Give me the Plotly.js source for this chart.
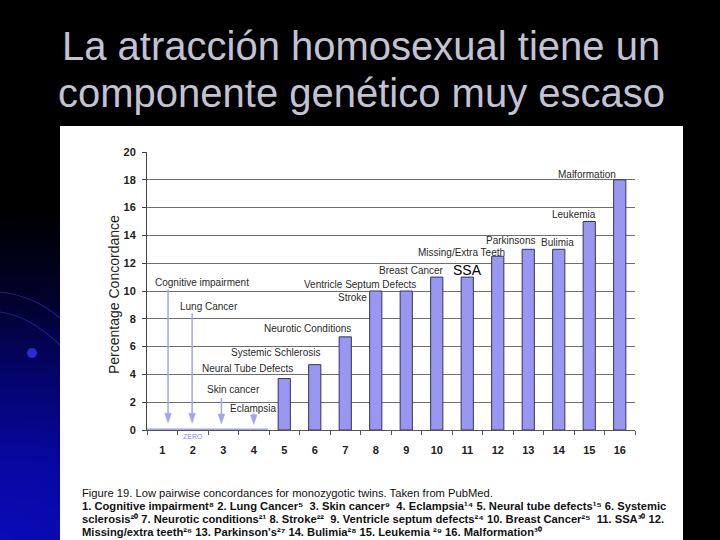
<!DOCTYPE html>
<html>
<head>
<meta charset="utf-8">
<script src="https://cdn.plot.ly/plotly-3.0.1.min.js"></script>
<style>
  html, body { margin: 0; padding: 0; background: #000; }
  #chart {
    width: 720px; height: 540px;
    background:
      radial-gradient(ellipse 620px 330px at 0% 100%, #0b0bb8 0%, #0707a0 25%, #04046a 50%, #010128 75%, #000 100%),
      #000;
  }
</style>
</head>
<body>
<div id="chart"></div>
<script>
// ---------------- data ----------------
const categories = ['1','2','3','4','5','6','7','8','9','10','11','12','13','14','15','16'];
const concordance = [0, 0, 0, 0, 3.7, 4.7, 6.7, 10, 10, 11, 11, 12.5, 13, 13, 15, 18];
const yTickValues = [0, 2, 4, 6, 8, 10, 12, 14, 16, 18, 20];
const conditionNames = [
  'Cognitive impairment', 'Lung Cancer', 'Skin cancer', 'Eclampsia',
  'Neural Tube Defects', 'Systemic Schlerosis', 'Neurotic Conditions',
  'Stroke', 'Ventricle Septum Defects', 'Breast Cancer', 'SSA',
  'Missing/Extra Teeth', 'Parkinsons', 'Bulimia', 'Leukemia', 'Malformation'
];
const titleLines = ['La atracción homosexual tiene un', 'componente genético muy escaso'];
const yAxisTitle = 'Percentage Concordance';
const zeroText = 'ZERO';
const captionLines = [
  'Figure 19. Low pairwise concordances for monozygotic twins. Taken from PubMed.',
  '1. Cognitive impairment⁸ 2. Lung Cancer⁵  3. Skin cancer⁹  4. Eclampsia¹⁴ 5. Neural tube defects¹⁵ 6. Systemic',
  'sclerosis²⁰ 7. Neurotic conditions²¹ 8. Stroke²²  9. Ventricle septum defects²⁴ 10. Breast Cancer²⁵  11. SSA³⁰ 12.',
  "Missing/extra teeth²⁶ 13. Parkinson's²⁷ 14. Bulimia²⁸ 15. Leukemia ²⁹ 16. Malformation³⁰"
];

// ---------------- placement (layout only) ----------------
// label placement in axis units: [x (category index), y, xanchor]
const labelPlacement = [
  [-0.30, 10.6, 'left'], [0.52, 8.85, 'left'], [2.34, 2.95, 'center'], [3.0, 1.58, 'center'],
  [2.80, 4.39, 'center'], [3.71, 5.54, 'center'], [4.76, 7.27, 'center'],
  [6.25, 9.5, 'center'], [6.47, 10.5, 'center'], [8.16, 11.44, 'center'], [10.02, 11.5, 'center'],
  [9.80, 12.8, 'center'], [11.42, 13.6, 'center'], [12.96, 13.5, 'center'], [13.5, 15.5, 'center'], [13.94, 18.4, 'center']
];
// arrows for the zero-concordance conditions: [x, tail y, tip y]
const arrowPlacement = [[0.19, 10.1, 0.5], [0.98, 8.4, 0.5], [1.94, 2.3, 0.45], [3.0, 1.2, 0.4]];

const FONT = 'Liberation Sans, Arial, sans-serif';
const labelFont = {family: FONT, size: 10, color: '#2a2a2a'};
const lavender = '#a4a4ee';

const px = v => (v - 147) / 488;   // pixel -> paper (x)
const py = v => (430 - v) / 278;   // pixel -> paper (y)

const annotations = [];
conditionNames.forEach((name, i) => {
  const p = labelPlacement[i];
  const isSSA = name === 'SSA';
  annotations.push({
    x: p[0], y: p[1], xref: 'x', yref: 'y', text: name, showarrow: false,
    xanchor: p[2], yanchor: 'middle',
    font: isSSA ? {family: FONT, size: 14, color: '#000'} : labelFont
  });
});
// zero label (just below the axis)
const zeroIdx = concordance.map((v, i) => v === 0 ? i : -1).filter(i => i >= 0);
annotations.push({
  x: 1.0, y: py(436), xref: 'x', yref: 'paper', text: zeroText, showarrow: false,
  xanchor: 'center', yanchor: 'middle',
  font: {family: FONT, size: 7, color: '#8c8ce0'}
});
// slide title (two lines)
const titleY = [46, 93];
titleLines.forEach((t, i) => {
  annotations.push({
    x: px(361), y: py(titleY[i]), xref: 'paper', yref: 'paper', text: t, showarrow: false,
    xanchor: 'center', yanchor: 'middle',
    font: {family: FONT, size: 40, color: '#c2c2d2'}
  });
});
// y-axis title
annotations.push({
  x: px(114), y: py(295), xref: 'paper', yref: 'paper', text: yAxisTitle, showarrow: false,
  textangle: -90, xanchor: 'center', yanchor: 'middle',
  font: {family: FONT, size: 14, color: '#222'}
});
// caption lines
const captionY = [493, 506, 519, 532];
captionLines.forEach((t, i) => {
  annotations.push({
    x: px(80), y: py(captionY[i]), xref: 'paper', yref: 'paper', text: t,
    showarrow: false, xanchor: 'left', yanchor: 'middle', align: 'left',
    font: {family: FONT, size: 11.2, color: '#111', weight: i === 0 ? 'normal' : 'bold'}
  });
});

const shapes = [
  // white slide panel
  {type: 'rect', xref: 'paper', yref: 'paper', x0: px(60), x1: px(683), y0: py(545), y1: py(126),
   fillcolor: '#ffffff', line: {width: 0}, layer: 'below'},
  // decorative swirl in the slide background
  {type: 'path', xref: 'paper', yref: 'paper', layer: 'below',
   path: `M ${px(0)} ${py(292)} Q ${px(35)} ${py(296)} ${px(60)} ${py(318)}`,
   line: {color: 'rgba(70,70,220,0.45)', width: 1.2}},
  {type: 'path', xref: 'paper', yref: 'paper', layer: 'below',
   path: `M ${px(0)} ${py(312)} Q ${px(30)} ${py(316)} ${px(60)} ${py(345)}`,
   line: {color: 'rgba(70,70,220,0.4)', width: 1.2}},
  {type: 'circle', xref: 'paper', yref: 'paper', layer: 'below',
   x0: px(27), x1: px(37), y0: py(358), y1: py(348),
   fillcolor: '#2a2ad8', line: {width: 0}},
  // zero marker line for conditions with no concordance
  {type: 'line', xref: 'x', yref: 'y', layer: 'above',
   x0: Math.min(...zeroIdx) - 0.5, x1: Math.max(...zeroIdx) + 0.47, y0: 0, y1: 0,
   line: {color: '#a0a0f0', width: 3}}
];
// arrows (shaft + head) pointing down to zero
const headHalfW = 0.11, headLen = 0.7;
arrowPlacement.forEach(a => {
  const [x, tail, tip] = a;
  shapes.push({type: 'line', xref: 'x', yref: 'y', layer: 'above',
    x0: x, x1: x, y0: tail, y1: tip + headLen * 0.5, line: {color: lavender, width: 1.5}});
  shapes.push({type: 'path', xref: 'x', yref: 'y', layer: 'above',
    path: `M ${x - headHalfW} ${tip + headLen} L ${x + headHalfW} ${tip + headLen} L ${x} ${tip} Z`,
    fillcolor: lavender, line: {color: lavender, width: 0.5}});
});

const trace = {
  type: 'bar', x: categories, y: concordance, width: 0.4,
  marker: {color: '#9898f2', line: {color: '#34345a', width: 1}},
  hoverinfo: 'x+y'
};

const tickFont = {family: FONT, size: 11, color: '#222', weight: 'bold'};

const layout = {
  width: 720, height: 540,
  margin: {l: 147, r: 85, t: 152, b: 110, pad: 0},
  paper_bgcolor: 'rgba(0,0,0,0)', plot_bgcolor: 'rgba(0,0,0,0)',
  showlegend: false,
  xaxis: {
    type: 'category', categoryorder: 'array', categoryarray: categories,
    range: [-0.5, 15.5], tickson: 'boundaries', ticks: 'outside', ticklen: 4,
    tickcolor: '#555', showline: true, linecolor: '#555', linewidth: 1,
    showgrid: false, tickfont: tickFont, ticklabelstandoff: 10, fixedrange: true
  },
  yaxis: {
    range: [0, 20], tickmode: 'array', tickvals: yTickValues,
    ticks: 'outside', ticklen: 4, tickcolor: '#444', showline: true, linecolor: '#444',
    showgrid: true, gridcolor: '#6e6e6e', gridwidth: 1, zeroline: false,
    tickfont: tickFont, ticklabelstandoff: 4, fixedrange: true
  },
  annotations: annotations,
  shapes: shapes
};

Plotly.newPlot('chart', [trace], layout, {displayModeBar: false, staticPlot: true});
</script>
</body>
</html>
